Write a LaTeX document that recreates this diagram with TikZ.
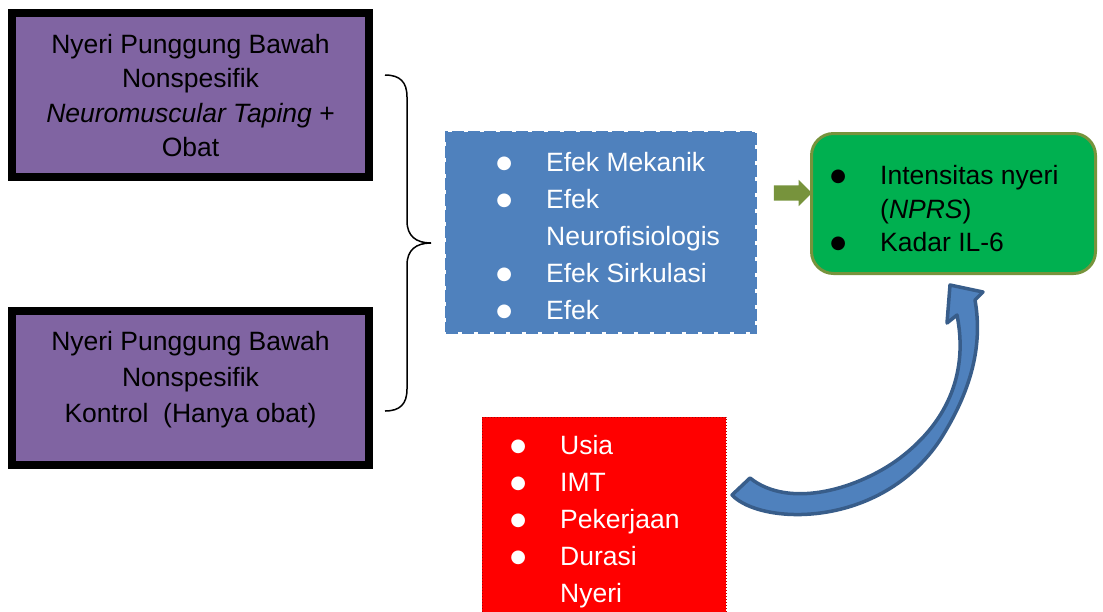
\documentclass[tikz,border=0pt]{standalone}
\usepackage{fontspec}
\setmainfont{Liberation Sans}
\newfontfamily\simbol{DejaVu Sans}
\usetikzlibrary{shapes.arrows}
\definecolor{ungu}{HTML}{8064A2}
\definecolor{biru}{HTML}{4F81BD}
\definecolor{birutua}{HTML}{385D8A}
\definecolor{hijau}{HTML}{00B050}
\definecolor{zaitun}{HTML}{77933C}
\definecolor{merah}{HTML}{FF0000}
\newcommand{\butir}{\makebox[84pt][c]{\raisebox{3pt}{\simbol\fontsize{18}{18}\selectfont ●}}}
\newcommand{\lanjut}{\hspace*{84pt}}
\begin{document}
\begin{tikzpicture}[x=1pt,y=-1pt,
	kotakungu/.style={draw=black,line width=8pt,fill=ungu,minimum width=357pt,inner sep=0pt,outer sep=0pt},
	kotakbiru/.style={draw=biru,line width=3pt,dash pattern=on 12pt off 4pt,fill=biru,minimum width=309pt,minimum height=200pt,inner sep=0pt,outer sep=0pt},
	kotakhijau/.style={draw=zaitun,line width=3pt,fill=hijau,rounded corners=22pt,minimum width=284pt,minimum height=140pt,inner sep=0pt,outer sep=0pt},
	kotakmerah/.style={draw=merah!70!black,line width=1pt,dotted,fill=merah,minimum width=244pt,minimum height=200pt,inner sep=0pt,outer sep=0pt},
	panah/.style={single arrow,fill=zaitun,minimum height=38pt,minimum width=26pt,single arrow head extend=5.5pt,single arrow head indent=0pt,inner xsep=0pt,inner ysep=7.5pt,outer sep=0pt},
	teks/.style={inner sep=0pt,anchor=base west,font=\fontsize{26.5}{#1}\selectfont}]
	\useasboundingbox (0,0) rectangle (1103,611);
	% kelompok perlakuan dan kontrol
	\node[kotakungu,minimum height=164pt] (nptA) at (190.5,95) {};
	\node[teks=34.3,anchor=base] (nptA-teks) at (190.5,53.5) {\begin{tabular}[t]{@{}c@{}}Nyeri Punggung Bawah\\ Nonspesifik\\ \textit{Neuromuscular Taping} +\\ Obat\end{tabular}};
	\node[kotakungu,minimum height=154pt] (nptB) at (190.5,388) {};
	\node[teks=36,anchor=base] (nptB-teks) at (190.5,350.5) {\begin{tabular}[t]{@{}c@{}}Nyeri Punggung Bawah\\ Nonspesifik\\ Kontrol\ \ (Hanya obat)\end{tabular}};
	% kurung kurawal
	\draw[line width=1.5pt] (385,75) .. controls (400,75) and (407,82) .. (407,97) -- (407,221)
		.. controls (407,236) and (416,243) .. (431,243)
		.. controls (416,243) and (407,250) .. (407,265) -- (407,389)
		.. controls (407,404) and (400,411) .. (385,411);
	% mekanisme
	\node[kotakbiru] (efek) at (600.5,232) {};
	\node[teks=37,text=white] (efek-teks) at (462,171.5) {\begin{tabular}[t]{@{}l@{}}\butir Efek Mekanik\\ \butir Efek\\ \lanjut Neurofisiologis\\ \butir Efek Sirkulasi\\ \butir Efek\end{tabular}};
	\node[panah] (panah) at (789,193) {};
	% luaran
	\node[kotakhijau] (luaran) at (953.5,203.5) {};
	\node[teks=33.5] (luaran-teks) at (796,184.5) {\begin{tabular}[t]{@{}l@{}}\butir Intensitas nyeri\\ \lanjut (\textit{NPRS})\\ \butir Kadar IL-6\end{tabular}};
	% perancu
	\node[kotakmerah] (perancu) at (604,517) {};
	\node[teks=37,text=white] (perancu-teks) at (476,454.5) {\begin{tabular}[t]{@{}l@{}}\butir Usia\\ \butir IMT\\ \butir Pekerjaan\\ \butir Durasi\\ \lanjut Nyeri\end{tabular}};
	% panah lengkung
	\filldraw[fill=biru,draw=birutua,line width=3.5pt,line join=round] (732,495)
		.. controls (760,525) and (880,530) .. (940,440)
		.. controls (975,385) and (982,340) .. (975,300)
		-- (983,292) -- (950,285) -- (947,323) -- (957,315)
		.. controls (968,370) and (950,420) .. (900,458)
		.. controls (860,488) and (790,510) .. (750,478) -- cycle;
\end{tikzpicture}
\end{document}
